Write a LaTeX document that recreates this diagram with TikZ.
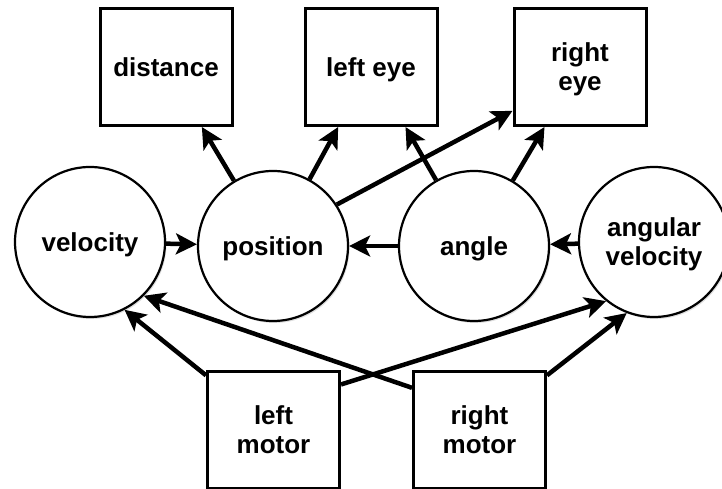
\documentclass[tikz,border=0pt]{standalone}
\usepackage{fontspec}
\setmainfont{Liberation Sans}
\usepackage{tikz}
\usetikzlibrary{arrows.meta, shadows}

\begin{document}
\begin{tikzpicture}[x=1pt, y=1pt,
    font=\fontsize{26}{29}\selectfont\bfseries,
    state/.style={circle, draw, line width=2.2pt, fill=white, minimum size=150pt,
      inner sep=0pt, align=center, text depth=0pt,
      drop shadow={shadow xshift=1.5pt, shadow yshift=-2pt, opacity=0.25}},
    sensor/.style={rectangle, draw, line width=3pt, fill=white, minimum width=132pt,
      minimum height=117pt, inner sep=0pt, align=center, text depth=0pt,
      drop shadow={shadow xshift=1.5pt, shadow yshift=-2pt, opacity=0.25}},
    link/.style={line width=4.5pt, -{Stealth[length=21pt, width=21pt, inset=5pt]}}]
  \useasboundingbox (0,0) rectangle (722,489);
  % states
  \node[state] (vel)    at (90,247)  {velocity};
  \node[state] (pos)    at (273,243) {position};
  \node[state] (ang)    at (474,243) {angle};
  \node[state] (angvel) at (654,247) {angular\\velocity};
  % sensors
  \node[sensor] (dist) at (166,422)   {distance};
  \node[sensor] (leye) at (371,422)   {left eye};
  \node[sensor] (reye) at (580,422)   {right\\eye};
  % motors
  \node[sensor] (lmot) at (273.5,59) {left\\motor};
  \node[sensor] (rmot) at (479.5,59) {right\\motor};
  % state links
  \draw[link] (vel) -- (pos);
  \draw[link] (ang) -- (pos);
  \draw[link] (angvel) -- (ang);
  % observations
  \draw[link] (pos) -- (dist);
  \draw[link] (pos) -- (leye);
  \draw[link] (pos.33) -- (reye.213);
  \draw[link] (ang) -- (leye);
  \draw[link] (ang) -- (reye);
  % motor inputs
  \draw[link] (lmot.141) -- (vel.-63);
  \draw[link] (rmot.148) -- (vel.-45);
  \draw[link] (lmot.34) -- (angvel.-129);
  \draw[link] (rmot.39) -- (angvel.-111);
\end{tikzpicture}
\end{document}
